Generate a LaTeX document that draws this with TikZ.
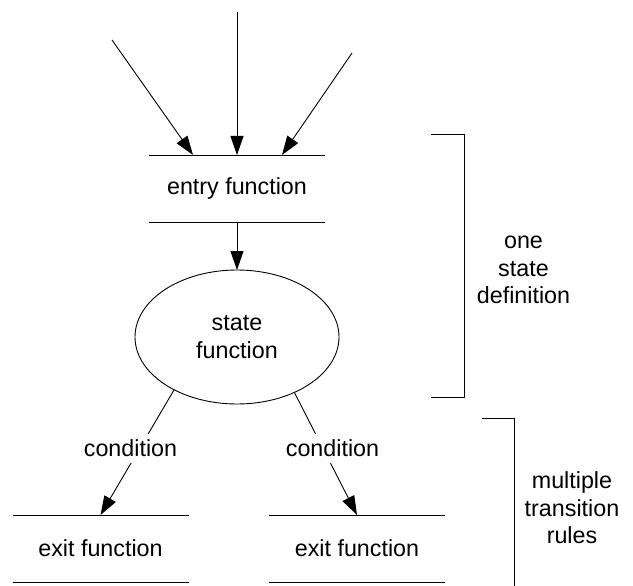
\documentclass[tikz,border=0pt]{standalone}
\usepackage{fontspec}
\setmainfont{Liberation Sans}
\usetikzlibrary{arrows.meta,shapes.geometric}
\pgfdeclarelayer{back}
\pgfsetlayers{back,main}

\tikzset{
  every node/.style={font=\fontsize{23.3pt}{27.5pt}\selectfont},
  wire/.style={line width=0.9pt, draw=black},
  flow/.style={wire, -{Triangle[length=19pt,width=13pt]}},
  funcbox/.style={minimum width=176pt, minimum height=67pt, inner sep=0pt, outer sep=0pt},
  statebox/.style={wire, ellipse, minimum width=204pt, minimum height=134pt, inner sep=0pt, outer sep=0pt, align=center},
  condlabel/.style={fill=white, minimum height=29pt, inner ysep=0pt, inner xsep=2pt},
  sidenote/.style={align=center}
}

\begin{document}
\begin{tikzpicture}[x=1pt, y=-1pt]
  \useasboundingbox (0,0) rectangle (633,586);

  % function blocks: text between two rules
  \node[funcbox] (entry) at (237,188.5) {entry function};
  \node[funcbox] (exitA) at (100.5,548.5) {exit function};
  \node[funcbox] (exitB) at (357,548.5) {exit function};
  \foreach \b in {entry,exitA,exitB} {
    \draw[wire] (\b.north west) -- (\b.north east);
    \draw[wire] (\b.south west) -- (\b.south east);
  }

  \node[statebox] (state) at (237,337) {state\\function};

  % incoming transitions
  \coordinate (srcA) at (112,40);
  \coordinate (srcB) at (237,12);
  \coordinate (srcC) at (352,53);
  \draw[flow] (srcA) -- ([xshift=-44pt]entry.north);
  \draw[flow] (srcB) -- (entry.north);
  \draw[flow] (srcC) -- ([xshift=45pt]entry.north);

  \draw[flow] (entry.south) -- (state.north);

  % transition rules
  \node[condlabel] (condA) at (130.5,448) {condition};
  \node[condlabel] (condB) at (332.5,448) {condition};
  \begin{pgfonlayer}{back}
    \draw[flow] (state.220.6) -- (exitA.north);
    \draw[flow] (state.316) -- (exitB.north);
  \end{pgfonlayer}

  % brackets with their notes
  \draw[wire] (431,134) -- (464,134) -- (464,397) -- (431,397);
  \node[sidenote] (noteA) at (523.5,270) {one\\state\\definition};
  \draw[wire] (482,418) -- (514,418) -- (514,586);
  \node[sidenote] (noteB) at (572,508) {multiple\\transition\\rules};
\end{tikzpicture}
\end{document}
